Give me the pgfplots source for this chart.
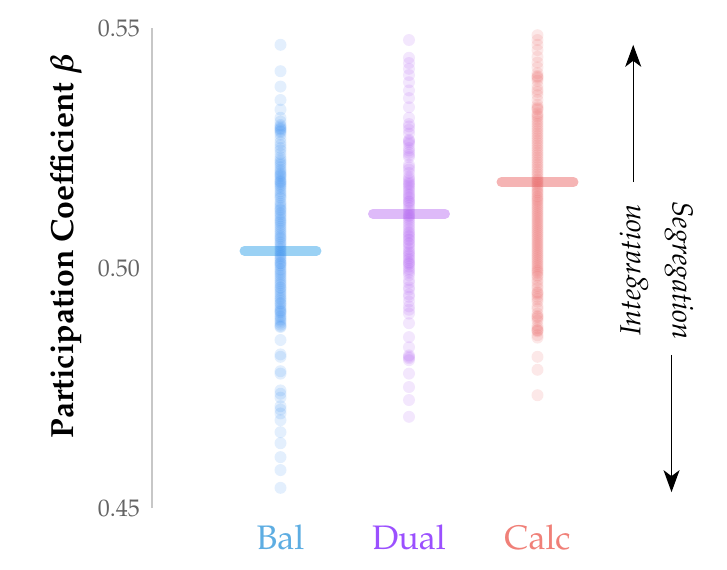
\documentclass[border=0pt]{standalone}
\usepackage[T1]{fontenc}
\usepackage{amsmath}
\usepackage{mathpazo}
\usepackage{pgfplots}
\usepackage{pgfplotstable}
\pgfplotsset{compat=1.18}
\usetikzlibrary{arrows.meta}
\definecolor{balpt}{RGB}{55,140,240}
\definecolor{dualpt}{RGB}{170,85,240}
\definecolor{calcpt}{RGB}{232,95,95}
\definecolor{balbar}{RGB}{100,185,238}
\definecolor{dualbar}{RGB}{200,140,245}
\definecolor{calcbar}{RGB}{238,130,130}
\definecolor{ballab}{RGB}{93,173,226}
\definecolor{duallab}{RGB}{155,80,255}
\definecolor{calclab}{RGB}{240,128,120}
\definecolor{tickgray}{RGB}{100,100,100}

\pgfplotstableread{
x y
0 0.5465
0 0.5410
0 0.5378
0 0.5350
0 0.5330
0 0.5313
0 0.5295
0 0.5290
0 0.5288
0 0.5285
0 0.5270
0 0.5256
0 0.5245
0 0.5231
0 0.5222
0 0.5215
0 0.5205
0 0.5198
0 0.5195
0 0.5190
0 0.5182
0 0.5180
0 0.5175
0 0.5172
0 0.5169
0 0.5160
0 0.5152
0 0.5145
0 0.5138
0 0.5130
0 0.5122
0 0.5120
0 0.5115
0 0.5108
0 0.5100
0 0.5094
0 0.5086
0 0.5078
0 0.5070
0 0.5063
0 0.5060
0 0.5055
0 0.5048
0 0.5040
0 0.5032
0 0.5025
0 0.5018
0 0.5010
0 0.5010
0 0.5003
0 0.4995
0 0.4988
0 0.4980
0 0.4972
0 0.4965
0 0.4960
0 0.4958
0 0.4950
0 0.4942
0 0.4935
0 0.4927
0 0.4925
0 0.4920
0 0.4912
0 0.4910
0 0.4905
0 0.4897
0 0.4890
0 0.4882
0 0.4877
0 0.4850
0 0.4815
0 0.4780
0 0.4745
0 0.4730
0 0.4712
0 0.4697
0 0.4683
0 0.4658
0 0.4635
0 0.4606
0 0.4579
0 0.4542
}\baldata

\pgfplotstableread{
x y
0 0.5305
0 0.5298
0 0.5292
0 0.5283
0 0.5278
0 0.5262
0 0.5250
0 0.5238
0 0.5226
0 0.5218
0 0.5210
0 0.5202
0 0.5193
0 0.5186
0 0.5178
0 0.5165
0 0.5156
0 0.5148
0 0.5134
0 0.5126
0 0.5112
0 0.5104
0 0.5097
0 0.5090
0 0.5082
0 0.5074
0 0.5066
0 0.5052
0 0.5044
0 0.5036
0 0.5028
0 0.5021
0 0.5014
0 0.5006
0 0.4998
0 0.4991
0 0.4984
0 0.4976
0 0.4968
0 0.4954
0 0.4946
0 0.4938
0 0.4931
0 0.4916
0 0.4908
0 0.4900
0 0.4893
0 0.4886
0 0.4879
0 0.4820
0 0.4785
0 0.4738
0 0.4705
}\baldatab

\pgfplotstableread{
x y
1 0.5475
1 0.5438
1 0.5427
1 0.5415
1 0.5402
1 0.5387
1 0.5370
1 0.5354
1 0.5335
1 0.5313
1 0.5295
1 0.5288
1 0.5267
1 0.5265
1 0.5258
1 0.5250
1 0.5240
1 0.5231
1 0.5215
1 0.5205
1 0.5190
1 0.5182
1 0.5178
1 0.5175
1 0.5168
1 0.5160
1 0.5152
1 0.5145
1 0.5140
1 0.5135
1 0.5125
1 0.5115
1 0.5110
1 0.5108
1 0.5100
1 0.5090
1 0.5080
1 0.5075
1 0.5072
1 0.5065
1 0.5058
1 0.5050
1 0.5045
1 0.5040
1 0.5032
1 0.5025
1 0.5017
1 0.5010
1 0.5008
1 0.4998
1 0.4990
1 0.4969
1 0.4955
1 0.4940
1 0.4913
1 0.4885
1 0.4856
1 0.4835
1 0.4815
1 0.4812
1 0.4780
1 0.4752
1 0.4725
1 0.4690
}\dualdata

\pgfplotstableread{
x y
1 0.5300
1 0.5280
1 0.5262
1 0.5245
1 0.5235
1 0.5210
1 0.5198
1 0.5186
1 0.5172
1 0.5164
1 0.5155
1 0.5148
1 0.5138
1 0.5130
1 0.5120
1 0.5104
1 0.5095
1 0.5085
1 0.5068
1 0.5060
1 0.5052
1 0.5035
1 0.5028
1 0.5020
1 0.5012
1 0.5003
1 0.4994
1 0.4985
1 0.4975
1 0.4960
1 0.4945
1 0.4930
1 0.4920
1 0.4905
1 0.4818
1 0.4808
}\dualdatab

\pgfplotstableread{
x y
2 0.5485
2 0.5475
2 0.5465
2 0.5454
2 0.5440
2 0.5428
2 0.5418
2 0.5406
2 0.5398
2 0.5395
2 0.5380
2 0.5367
2 0.5350
2 0.5335
2 0.5330
2 0.5322
2 0.5315
2 0.5305
2 0.5295
2 0.5285
2 0.5275
2 0.5265
2 0.5255
2 0.5245
2 0.5235
2 0.5225
2 0.5215
2 0.5205
2 0.5195
2 0.5185
2 0.5178
2 0.5170
2 0.5162
2 0.5155
2 0.5147
2 0.5140
2 0.5132
2 0.5124
2 0.5116
2 0.5108
2 0.5100
2 0.5092
2 0.5084
2 0.5076
2 0.5068
2 0.5060
2 0.5052
2 0.5044
2 0.5036
2 0.5028
2 0.5020
2 0.5012
2 0.5004
2 0.4996
2 0.4990
2 0.4982
2 0.4970
2 0.4958
2 0.4948
2 0.4945
2 0.4930
2 0.4915
2 0.4898
2 0.4895
2 0.4880
2 0.4871
2 0.4868
2 0.4855
2 0.4815
2 0.4788
2 0.4735
}\calcdata

\pgfplotstableread{
x y
2 0.5400
2 0.5390
2 0.5372
2 0.5360
2 0.5340
2 0.5332
2 0.5318
2 0.5310
2 0.5300
2 0.5290
2 0.5280
2 0.5270
2 0.5260
2 0.5250
2 0.5240
2 0.5230
2 0.5220
2 0.5210
2 0.5200
2 0.5190
2 0.5182
2 0.5174
2 0.5166
2 0.5158
2 0.5150
2 0.5143
2 0.5136
2 0.5128
2 0.5120
2 0.5112
2 0.5104
2 0.5096
2 0.5088
2 0.5080
2 0.5072
2 0.5064
2 0.5056
2 0.5048
2 0.5040
2 0.5032
2 0.5024
2 0.5016
2 0.5008
2 0.5000
2 0.4993
2 0.4985
2 0.4975
2 0.4963
2 0.4950
2 0.4940
2 0.4935
2 0.4920
2 0.4905
2 0.4900
2 0.4890
2 0.4875
2 0.4870
2 0.4860
}\calcdatab

\begin{document}
\begin{tikzpicture}
\path[use as bounding box] (-76pt,-30.5pt) rectangle (287.5pt,254pt);
\begin{axis}[
  at={(0pt,0pt)}, anchor=south west,
  scale only axis, width=257pt, height=240pt,
  xmin=-1, xmax=3, ymin=0.45, ymax=0.55,
  clip=false,
  axis lines*=left,
  x axis line style={draw=none},
  y axis line style={draw=black!22, line width=0.6pt},
  tick style={draw=none},
  xtick={0,1,2},
  xticklabels={\textcolor{ballab}{Bal},\textcolor{duallab}{Dual},\textcolor{calclab}{Calc}},
  xticklabel style={font=\fontsize{17}{20}\selectfont, yshift=-5pt},
  ytick={0.45,0.50,0.55},
  yticklabel style={font=\fontsize{12}{14}\selectfont, text=tickgray, xshift=-2.5pt,
    /pgf/number format/.cd, fixed, fixed zerofill, precision=2},
  ylabel={\bfseries Participation Coefficient $\boldsymbol{\beta}$},
  ylabel style={at={(axis description cs:-0.1673,0.545)}, anchor=center,
    font=\fontsize{16}{19}\selectfont},
  ptstyle/.style={only marks, mark=*, mark size=3pt, color=#1,
    mark options={fill=#1, fill opacity=0.14, draw opacity=0}},
]
\addplot[ptstyle=balpt] table[x=x,y=y] {\baldata};
\addplot[ptstyle=balpt] table[x=x,y=y] {\baldatab};
\addplot[ptstyle=dualpt] table[x=x,y=y] {\dualdata};
\addplot[ptstyle=dualpt] table[x=x,y=y] {\dualdatab};
\addplot[ptstyle=calcpt] table[x=x,y=y] {\calcdata};
\addplot[ptstyle=calcpt] table[x=x,y=y] {\calcdatab};
\addplot[balbar, line width=5pt, line cap=round, opacity=0.65] coordinates {(-0.28,0.5036) (0.28,0.5036)};
\addplot[dualbar, line width=5pt, line cap=round, opacity=0.6] coordinates {(0.72,0.5113) (1.28,0.5113)};
\addplot[calcbar, line width=5pt, line cap=round, opacity=0.6] coordinates {(1.72,0.5179) (2.28,0.5179)};
\draw[line width=0.7pt, -{Stealth[length=11pt,width=8pt,inset=3pt]}] (axis cs:2.745,0.5179) -- (axis cs:2.745,0.5465);
\draw[line width=0.7pt, -{Stealth[length=11pt,width=8pt,inset=3pt]}] (axis cs:3.043,0.4819) -- (axis cs:3.043,0.4533);
\node[rotate=90, font=\itshape\fontsize{14.5}{17}\selectfont] at (axis cs:2.751,0.4996) {Integration};
\node[rotate=-90, font=\itshape\fontsize{14.5}{17}\selectfont] at (axis cs:3.101,0.4994) {Segregation};
\end{axis}
\end{tikzpicture}
\end{document}
